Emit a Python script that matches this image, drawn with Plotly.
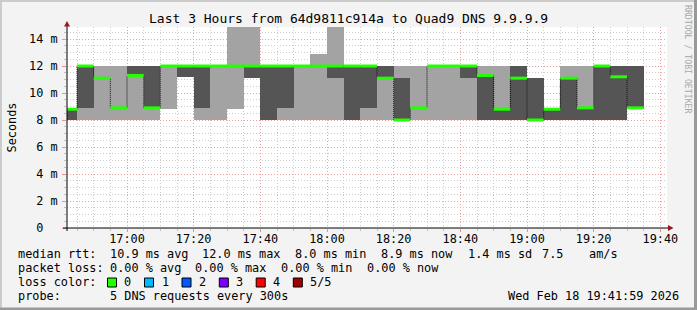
import pandas as pd
import plotly.graph_objects as go

# ---------------- data ----------------
bin_start = pd.date_range("2026-02-18 16:40", periods=35, freq="5min")
ping_min = [8.0, 8.0, 8.0, 8.0, 8.0, 8.0, 8.8, 11.2, 8.0, 8.0, 8.8, 11.1, 8.0, 8.0, 8.0, 8.0, 8.0, 8.0,
            8.0, 8.0, 8.0, 8.0, 8.0, 8.0, 8.0, 8.0, 8.0, 8.0, 8.0, 8.0, 8.0, 8.0, 8.0, 8.0, 8.9]
ping_lo = [8.0, 8.9, 11.1, 8.9, 11.3, 8.9, 12.0, 11.2, 8.9, 12.0, 12.0, 11.1, 8.0, 8.9, 12.0, 12.0, 11.1, 8.0,
           8.9, 11.1, 8.0, 8.9, 12.0, 12.0, 11.1, 8.0, 8.0, 8.0, 8.0, 8.0, 8.0, 8.0, 8.0, 8.0, 8.9]
median = [8.8, 12.0, 11.1, 8.9, 11.3, 8.9, 12.0, 12.0, 12.0, 12.0, 12.0, 12.0, 12.0, 12.0, 12.0, 12.0, 12.0, 12.0,
          12.0, 11.1, 8.0, 8.9, 12.0, 12.0, 12.0, 11.3, 8.8, 11.1, 8.0, 8.8, 11.1, 8.9, 12.0, 11.2, 8.9]
ping_hi = [8.8, 12.0, 11.1, 8.9, 12.0, 12.0, 12.0, 12.0, 12.0, 12.0, 12.0, 12.0, 12.0, 12.0, 12.0, 12.0, 12.0, 12.0,
           12.0, 12.0, 11.1, 8.9, 12.0, 12.0, 12.0, 11.3, 8.8, 12.0, 11.1, 8.8, 11.1, 8.9, 12.0, 12.0, 12.0]
ping_max = [8.8, 12.0, 12.0, 12.0, 12.0, 12.0, 12.0, 12.0, 12.0, 12.0, 15.5, 15.5, 12.0, 12.0, 12.0, 12.9, 15.5, 12.0,
            12.0, 12.0, 12.0, 12.0, 12.0, 12.0, 12.0, 12.0, 12.0, 12.0, 11.1, 8.8, 12.0, 12.0, 12.0, 12.0, 12.0]

y_ticks = [0, 2, 4, 6, 8, 10, 12, 14]
y_tick_text = ["0\u00a0\u00a0", "2 m", "4 m", "6 m", "8 m", "10 m", "12 m", "14 m"]

title = "Last 3 Hours from 64d9811c914a to Quad9 DNS 9.9.9.9"
loss_labels = ["0", "1", "2", "3", "4", "5/5"]
loss_colors = ["#22ff00", "#00b8ff", "#0059ff", "#7e00ff", "#ff0000", "#a10000"]

# ---------------- geometry helpers ----------------
W, H = 697, 310
L, R, T, B = 67, 667, 27, 228


def px(x):
    return (x - L) / (R - L)


def py(y):
    return (B - y) / (B - T)


MONO = "DejaVu Sans Mono"
FS = 11.85
step = pd.Timedelta(minutes=5)
centers = bin_start + step / 2
bin_end = bin_start + step

fig = go.Figure()

fig.add_trace(go.Bar(x=centers, base=ping_min, y=[b - a for a, b in zip(ping_min, ping_max)],
                     width=300000, marker=dict(color="#a3a3a3", line=dict(width=0)), hoverinfo="skip"))
fig.add_trace(go.Bar(x=centers, base=ping_lo, y=[b - a for a, b in zip(ping_lo, ping_hi)],
                     width=300000, marker=dict(color="#555555", line=dict(width=0)), hoverinfo="skip"))

# thin median step line
fig.add_trace(go.Scatter(x=list(bin_start) + [bin_end[-1]], y=median + [median[-1]], mode="lines",
                         line=dict(color="#111111", width=1, dash="1px,1px", shape="hv"), hoverinfo="skip"))

# green median segments
gx, gy = [], []
for s, e, m in zip(bin_start, bin_end, median):
    gx += [s, e, None]
    gy += [m, m, None]
fig.add_trace(go.Scatter(x=gx, y=gy, mode="lines", line=dict(color=loss_colors[0], width=3),
                         connectgaps=False, hoverinfo="skip"))

fig.update_layout(
    width=W, height=H,
    margin=dict(l=L, r=W - R, t=T, b=H - B),
    paper_bgcolor="#f3f3f3", plot_bgcolor="#ffffff",
    showlegend=False, barmode="overlay", bargap=0,
    font=dict(family=MONO, size=FS, color="#000000"),
)

fig.update_xaxes(
    range=["2026-02-18 16:42:00", "2026-02-18 19:42:00"],
    tick0="2026-02-18 17:00:00", dtick=1200000, tickformat="%H:%M",
    ticks="outside", ticklen=3, tickcolor="#f09090", tickwidth=1,
    tickfont=dict(family=MONO, size=FS), ticklabelstandoff=-3,
    showgrid=True, gridcolor="#eea0a0", griddash="1px,2px", gridwidth=1,
    minor=dict(dtick=300000, showgrid=True, gridcolor="#cccccc", griddash="1px,2px",
               ticks="outside", ticklen=2, tickcolor="#c0c0c0"),
    showline=False, zeroline=False, fixedrange=True,
)
fig.update_yaxes(
    range=[0, (B - T) / 13.5],
    tickvals=y_ticks, ticktext=y_tick_text,
    ticks="outside", ticklen=4, tickcolor="#f09090", tickwidth=1,
    tickfont=dict(family=MONO, size=FS), ticklabelstandoff=2,
    showgrid=True, gridcolor="#eea0a0", griddash="1px,2px", gridwidth=1,
    minor=dict(dtick=0.5, showgrid=True, gridcolor="#cccccc", griddash="1px,2px",
               ticks="outside", ticklen=2, tickcolor="#c0c0c0"),
    showline=False, zeroline=False, fixedrange=True,
)

shapes = []
# axes lines
shapes.append(dict(type="line", xref="paper", yref="paper", x0=px(63), x1=px(669), y0=py(228), y1=py(228),
                   line=dict(color="#000000", width=1), layer="above"))
shapes.append(dict(type="line", xref="paper", yref="paper", x0=px(67), x1=px(67), y0=py(231), y1=py(24),
                   line=dict(color="#000000", width=1), layer="above"))
# arrows
shapes.append(dict(type="path", xref="paper", yref="paper",
                   path=f"M {px(64)} {py(26.5)} L {px(70)} {py(26.5)} L {px(67)} {py(21)} Z",
                   fillcolor="#9a1a1a", line=dict(width=0), layer="above"))
shapes.append(dict(type="path", xref="paper", yref="paper",
                   path=f"M {px(668)} {py(225)} L {px(668)} {py(231)} L {px(673.5)} {py(228)} Z",
                   fillcolor="#9a1a1a", line=dict(width=0), layer="above"))
# frame (3D style border)
shapes.append(dict(type="rect", xref="paper", yref="paper", x0=px(0), x1=px(697), y0=py(0), y1=py(2),
                   fillcolor="#cbcbcb", line=dict(width=0), layer="above"))
shapes.append(dict(type="rect", xref="paper", yref="paper", x0=px(0), x1=px(2), y0=py(0), y1=py(310),
                   fillcolor="#cbcbcb", line=dict(width=0), layer="above"))
shapes.append(dict(type="rect", xref="paper", yref="paper", x0=px(694), x1=px(697), y0=py(0), y1=py(310),
                   fillcolor="#999999", line=dict(width=0), layer="above"))
shapes.append(dict(type="rect", xref="paper", yref="paper", x0=px(0), x1=px(697), y0=py(307.5), y1=py(310),
                   fillcolor="#999999", line=dict(width=0), layer="above"))

# loss colour boxes
box_x = [107.5, 144.5, 182, 219.3, 256.2, 293.3]
label_x = [122, 159.5, 196.7, 234, 270.7, 308]
for bx, c in zip(box_x, loss_colors):
    shapes.append(dict(type="rect", xref="paper", yref="paper", x0=px(bx), x1=px(bx + 9),
                       y0=py(278), y1=py(287), fillcolor=c, line=dict(color="#000000", width=1), layer="above"))
fig.update_layout(shapes=shapes)

ann = []


def text(x, y, s, anchor="left", size=FS, angle=0, color="#000000"):
    ann.append(dict(xref="paper", yref="paper", x=px(x), y=py(y), text=s, showarrow=False,
                    xanchor=anchor, yanchor="middle", textangle=angle,
                    font=dict(family=MONO, size=size, color=color)))


text(348.5, 19, title, anchor="center", size=13)
text(11, 127.5, "Seconds", anchor="center", angle=-90)
text(688, 59, "RRDTOOL / TOBI OETIKER", anchor="center", size=8.2, angle=90, color="#a8a8a8")

row1 = [(16, "median rtt:"), (107.5, "10.9 ms avg"), (200.3, "12.0 ms max"), (293.3, "8.0 ms min"),
        (379, "8.9 ms now"), (465.6, "1.4 ms sd"), (540, "7.5"), (586.7, "am/s")]
for x, s in row1:
    text(x, 254.3, s)
row2 = [(16, "packet loss:"), (107.5, "0.00 % avg"), (193.3, "0.00 % max"), (279.1, "0.00 % min"),
        (364.9, "0.00 % now")]
for x, s in row2:
    text(x, 268.3, s)
text(16, 282.3, "loss color:")
for lx, s in zip(label_x, loss_labels):
    text(lx, 282.3, s)
text(16, 296.3, "probe:")
text(107.5, 296.3, "5 DNS requests every 300s")
text(680.5, 296.3, "Wed Feb 18 19:41:59 2026", anchor="right")

fig.update_layout(annotations=ann)
fig.write_html("out.html")
